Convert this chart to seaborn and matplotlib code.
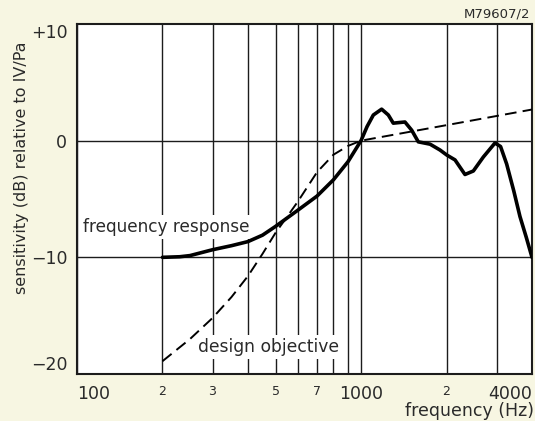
import matplotlib
matplotlib.use("Agg")
import matplotlib.pyplot as plt
import seaborn as sns
import pandas as pd

# Measured microphone response (Hz, dB re 1 V/Pa)
resp_freq = [200, 230, 250, 300, 350, 400, 450, 500, 600, 700, 800, 900, 1000,
             1050, 1105, 1182, 1248, 1299, 1360, 1428, 1508, 1591, 1750, 1897,
             2004, 2143, 2323, 2486, 2696, 2963, 3100, 3257, 3450, 3628, 3820,
             4000]
resp_db = [-10.0, -9.95, -9.85, -9.35, -9.0, -8.65, -8.1, -7.35, -5.95, -4.75,
           -3.35, -1.8, 0.0, 1.2, 2.2, 2.7, 2.2, 1.5, 1.55, 1.6, 0.9, -0.1,
           -0.3, -0.8, -1.23, -1.65, -2.9, -2.6, -1.4, -0.2, -0.5, -2.0,
           -4.3, -6.5, -8.3, -10.0]

# Target curve
obj_freq = [200, 250, 300, 350, 400, 450, 500, 550, 600, 700, 800, 900, 1000,
            2000, 4000]
obj_db = [-18.9, -17.0, -15.2, -13.4, -11.6, -9.7, -7.9, -6.5, -5.2, -2.7,
          -1.2, -0.45, 0.0, 1.33, 2.67]

grid_freqs = [100, 200, 300, 400, 500, 600, 700, 800, 900, 1000, 2000, 3000, 4000]
tick_text = {100: "100", 200: "2", 300: "3", 500: "5", 700: "7",
             1000: "1000", 2000: "2", 4000: "4000"}
y_ticks = [10, 0, -10, -20]
y_text = ["+10", "0", "\u221210", "\u221220"]

sns.set_theme(style="white")
plt.rcParams["font.family"] = ["DejaVu Sans"]
ink = "#1c1c1c"
txt = "#2a2a2a"

fig = plt.figure(figsize=(5.35, 4.21), dpi=100, facecolor="#f7f6e2")
ax = fig.add_axes([77 / 535, 1 - 374 / 421, (532 - 77) / 535, (374 - 24) / 421])
ax.set_facecolor("white")

resp = pd.DataFrame({"f": resp_freq, "db": resp_db})
obj = pd.DataFrame({"f": obj_freq, "db": obj_db})

sns.lineplot(data=resp, x="f", y="db", ax=ax, color="black", lw=2.6,
             sort=False, zorder=5, solid_capstyle="round", solid_joinstyle="round")
sns.lineplot(data=obj, x="f", y="db", ax=ax, color="black", lw=1.4,
             sort=False, zorder=5, linestyle=(0, (6, 3.2)))

ax.set_xscale("log")
ax.set_xlim(100, 4000)
ax.set_ylim(-20, 10)

# grid
for f in grid_freqs:
    ax.axvline(f, color=ink, lw=1.0, zorder=1)
for y in (0, -10):
    ax.axhline(y, color=ink, lw=1.0, zorder=1)
for s in ax.spines.values():
    s.set_color(ink)
    s.set_linewidth(1.5)
    s.set_visible(True)

ax.minorticks_off()
ax.set_xticks(list(tick_text.keys()))
ax.set_xticklabels(list(tick_text.values()))
ax.tick_params(axis="x", length=0, pad=8, colors=txt)
for lab, f in zip(ax.get_xticklabels(), tick_text.keys()):
    if tick_text[f] in ("100", "1000", "4000"):
        lab.set_fontsize(12.5)
    else:
        lab.set_fontsize(9)
    if f == 100:
        lab.set_horizontalalignment("left")
    elif f == 4000:
        lab.set_horizontalalignment("right")

ax.set_yticks(y_ticks)
ax.set_yticklabels(y_text)
ax.tick_params(axis="y", length=0, pad=7, colors=txt, labelsize=12.5)
ylabs = ax.get_yticklabels()
ylabs[0].set_verticalalignment("top")
ylabs[-1].set_verticalalignment("bottom")

ax.set_xlabel("")
ax.set_ylabel("")

fig.text(22 / 535, 1 - 168 / 421, "sensitivity (dB) relative to IV/Pa",
         rotation=90, ha="center", va="center", fontsize=11.5, color=txt)
fig.text(534 / 535, 1 - 411 / 421, "frequency (Hz)", ha="right", va="center",
         fontsize=12.5, color=txt)
fig.text(530 / 535, 1 - 14 / 421, "M79607/2", ha="right", va="center",
         fontsize=9.5, color=txt)

box = dict(facecolor="white", edgecolor="none", pad=2.5)
ax.annotate("frequency response", xy=(83, 1 - 227 / 421),
            xycoords=("figure pixels", "figure fraction"),
            ha="left", va="center", fontsize=12.2, color=txt, bbox=box, zorder=3)
ax.annotate("design objective", xy=(198, 1 - 347 / 421),
            xycoords=("figure pixels", "figure fraction"),
            ha="left", va="center", fontsize=12.3, color=txt, bbox=box, zorder=3)

fig.savefig("out.png", dpi=100, facecolor=fig.get_facecolor())
